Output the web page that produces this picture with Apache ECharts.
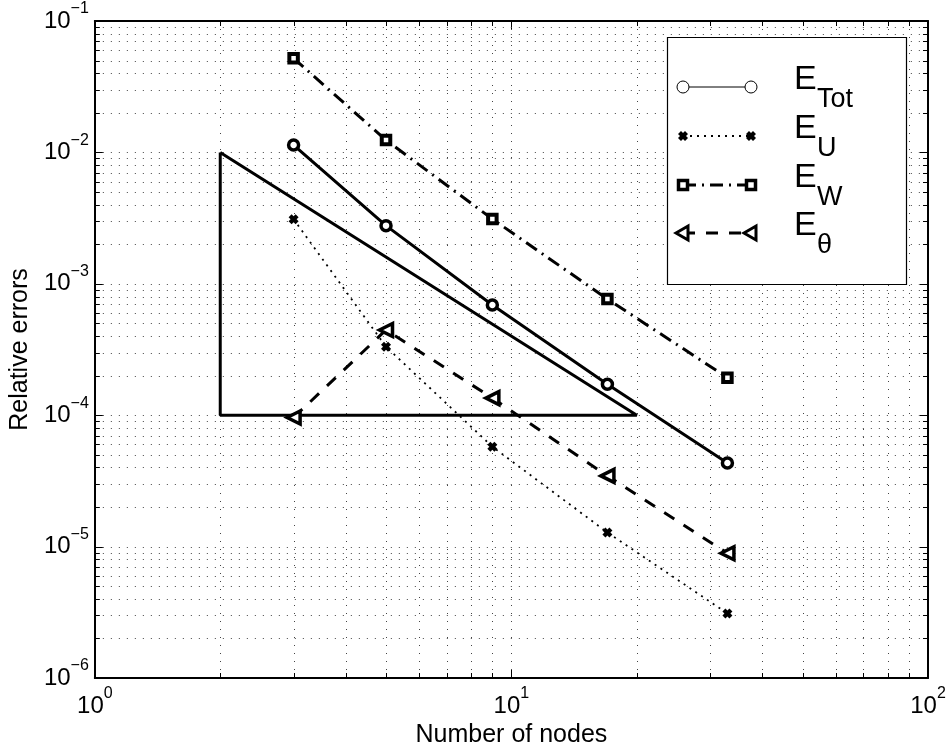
<!DOCTYPE html>
<html>
<head>
<meta charset="utf-8">
<script src="https://cdn.jsdelivr.net/npm/echarts@6/dist/echarts.min.js"></script>
<style>
  html, body { margin: 0; padding: 0; background: #fff; }
  #chart { width: 949px; height: 753px; }
</style>
</head>
<body>
<div id="chart"></div>
<script>
// values
const nodes = [3, 5, 9, 17, 33]
const eTot = [0.01138, 0.00277, 6.9e-4, 1.72e-4, 4.33e-5]
const eU = [3.1e-3, 3.32e-4, 5.76e-5, 1.28e-5, 3.1e-6]
const eW = [0.052, 0.0124, 3.11e-3, 7.66e-4, 1.93e-4]
const eTheta = [9.6e-5, 4.45e-4, 1.35e-4, 3.45e-5, 8.9e-6]
// slope reference triangle
const triX = [2, 2, 20, 2]
const triY = [1e-2, 1e-4, 1e-4, 1e-2]
// axis decades (tick labels) and the minor steps inside a decade
const xDecades = [1, 10, 100]
const yDecades = [1e-6, 1e-5, 1e-4, 1e-3, 1e-2, 1e-1]
const minorSteps = [2, 3, 4, 5, 6, 7, 8, 9]

const FONT = "'Liberation Sans', Arial, Helvetica, sans-serif"
const xMin = xDecades[0], xMax = xDecades[xDecades.length - 1]
const yMin = yDecades[0], yMax = yDecades[yDecades.length - 1]

const zip = (xs, ys) => xs.map((x, i) => [x, ys[i]])

// grid lines: [x, y, orientation (0 vertical / 1 horizontal), major]
const gridLines = []
xDecades.forEach((d, i) => {
  gridLines.push([d, yMin, 0, 1])
  if (i < xDecades.length - 1) minorSteps.forEach(m => gridLines.push([d * m, yMin, 0, 0]))
})
yDecades.forEach((d, i) => {
  gridLines.push([xMin, d, 1, 1])
  if (i < yDecades.length - 1) minorSteps.forEach(m => gridLines.push([xMin, d * m, 1, 0]))
})

const near = (a, b) => Math.abs(Math.log10(a) - Math.log10(b)) < 1e-6
const px = v => Math.round(v) + 0.5

function renderGrid(params, api) {
  const vertical = api.value(2) === 0
  const len = api.value(3) === 1 ? 8 : 5
  const dot = { stroke: '#444', lineWidth: 1, lineDash: [1, 7] }
  const tick = { stroke: '#000', lineWidth: 1 }
  const children = []
  if (vertical) {
    const v = api.value(0)
    const a = api.coord([v, yMin]), b = api.coord([v, yMax])
    const x = px(a[0])
    if (!near(v, xMin) && !near(v, xMax)) {
      children.push({ type: 'line', shape: { x1: x, y1: a[1], x2: x, y2: b[1] }, style: dot })
    }
    children.push({ type: 'line', shape: { x1: x, y1: a[1], x2: x, y2: a[1] - len }, style: tick })
    children.push({ type: 'line', shape: { x1: x, y1: b[1], x2: x, y2: b[1] + len }, style: tick })
  } else {
    const v = api.value(1)
    const a = api.coord([xMin, v]), b = api.coord([xMax, v])
    const y = px(a[1])
    if (!near(v, yMin) && !near(v, yMax)) {
      children.push({ type: 'line', shape: { x1: a[0], y1: y, x2: b[0], y2: y }, style: dot })
    }
    children.push({ type: 'line', shape: { x1: a[0], y1: y, x2: a[0] + len, y2: y }, style: tick })
    children.push({ type: 'line', shape: { x1: b[0], y1: y, x2: b[0] - len, y2: y }, style: tick })
  }
  return { type: 'group', children }
}

const powLabel = v => {
  const e = Math.round(Math.log10(v))
  return '{b|10}{s|' + (e < 0 ? '\u2212' + (-e) : e) + '}'
}
const powRich = {
  b: { fontSize: 24, lineHeight: 40, fontFamily: FONT, color: '#000' },
  s: { fontSize: 16, lineHeight: 16, verticalAlign: 'top', fontFamily: FONT, color: '#000' },
}

// bold "x" marker
const X_PATH = 'path://M0,3L3,0L5,2L7,0L10,3L8,5L10,7L7,10L5,8L3,10L0,7L2,5Z'

// legend drawn by hand so each entry gets a marker at both ends like the original
const legendLeft = 683, legendRight = 751, legendText = 794
const legendRows = [
  { sub: 'Tot', y: 87 },
  { sub: 'U', y: 136 },
  { sub: 'W', y: 185 },
  { sub: '\u03b8', y: 233 },
]
const legendMarks = [
  { dash: null, width: 1, mark: (cx, cy) => ({ type: 'circle', shape: { cx, cy, r: 6 }, style: { fill: '#fff', stroke: '#000', lineWidth: 1 } }) },
  { dash: [2, 5], width: 1.8, mark: (cx, cy) => ({ type: 'polygon', shape: { points: [[-5, -2], [-2, -5], [0, -3], [2, -5], [5, -2], [3, 0], [5, 2], [2, 5], [0, 3], [-2, 5], [-5, 2], [-3, 0]].map(p => [cx + p[0], cy + p[1]]) }, style: { fill: '#000' } }) },
  { dash: [13, 6, 2, 6], width: 3, mark: (cx, cy) => ({ type: 'rect', shape: { x: cx - 4.5, y: cy - 4.5, width: 9, height: 9 }, style: { fill: '#fff', stroke: '#000', lineWidth: 3.5 } }) },
  { dash: [12, 11], width: 3, mark: (cx, cy) => ({ type: 'polygon', shape: { points: [[cx - 7, cy], [cx + 5, cy - 7], [cx + 5, cy + 7]] }, style: { fill: '#fff', stroke: '#000', lineWidth: 3 } }) },
]
const legendGraphic = [
  { type: 'rect', shape: { x: 667.5, y: 37.5, width: 239, height: 247 }, style: { fill: '#fff', stroke: '#000', lineWidth: 1.2 }, z: 10 },
]
legendRows.forEach((row, i) => {
  const m = legendMarks[i]
  legendGraphic.push({
    type: 'line', z: 11,
    shape: { x1: legendLeft, y1: row.y, x2: legendRight, y2: row.y },
    style: { stroke: '#000', lineWidth: m.width, lineDash: m.dash },
  })
  legendGraphic.push(Object.assign(m.mark(legendLeft, row.y), { z: 12 }))
  legendGraphic.push(Object.assign(m.mark(legendRight, row.y), { z: 12 }))
  legendGraphic.push({
    type: 'text', z: 12, x: legendText, y: row.y - 7,
    style: { text: 'E', font: '34px ' + FONT, fill: '#000', verticalAlign: 'middle', align: 'left' },
  })
  legendGraphic.push({
    type: 'text', z: 12, x: legendText + 23, y: row.y + 13,
    style: { text: row.sub, font: '27px ' + FONT, fill: '#000', verticalAlign: 'middle', align: 'left' },
  })
})

const boxAxis = {
  axisLine: { show: true, lineStyle: { color: '#000', width: 2 } },
  axisTick: { show: false },
  splitLine: { show: false },
}

const chart = echarts.init(document.getElementById('chart'))
const option = {
  animation: false,
  backgroundColor: '#fff',
  grid: { left: 94, top: 21, right: 21, bottom: 75 },
  xAxis: [
    Object.assign({
      type: 'log', logBase: 10, min: xMin, max: xMax, position: 'bottom',
      axisLabel: { formatter: powLabel, rich: powRich, margin: 8 },
      name: 'Number of nodes', nameLocation: 'middle', nameGap: 41,
      nameTextStyle: { fontSize: 25, fontFamily: FONT, color: '#000' },
    }, boxAxis),
    Object.assign({ type: 'log', logBase: 10, min: xMin, max: xMax, position: 'top', axisLabel: { show: false } }, boxAxis),
  ],
  yAxis: [
    Object.assign({
      type: 'log', logBase: 10, min: yMin, max: yMax, position: 'left',
      axisLabel: { formatter: powLabel, rich: powRich, margin: 6 },
      name: 'Relative errors', nameLocation: 'middle', nameGap: 55,
      nameTextStyle: { fontSize: 25, fontFamily: FONT, color: '#000' },
    }, boxAxis),
    Object.assign({ type: 'log', logBase: 10, min: yMin, max: yMax, position: 'right', axisLabel: { show: false } }, boxAxis),
  ],
  graphic: legendGraphic,
  series: [
    {
      type: 'custom', silent: true, z: 1, clip: false,
      renderItem: renderGrid, data: gridLines,
    },
    {
      name: 'slope', type: 'line', data: zip(triX, triY), symbol: 'none', z: 3,
      lineStyle: { color: '#000', width: 3 },
    },
    {
      name: 'E_Tot', type: 'line', data: zip(nodes, eTot), z: 4,
      lineStyle: { color: '#000', width: 3 },
      symbol: 'circle', symbolSize: 10,
      itemStyle: { color: '#fff', borderColor: '#000', borderWidth: 3.5 },
    },
    {
      name: 'E_U', type: 'line', data: zip(nodes, eU), z: 4,
      lineStyle: { color: '#000', width: 1.8, type: [2, 5] },
      symbol: X_PATH, symbolSize: 10,
      itemStyle: { color: '#000' },
    },
    {
      name: 'E_W', type: 'line', data: zip(nodes, eW), z: 4,
      lineStyle: { color: '#000', width: 3, type: [13, 6, 2, 6] },
      symbol: 'rect', symbolSize: 8.5,
      itemStyle: { color: '#fff', borderColor: '#000', borderWidth: 4 },
    },
    {
      name: 'E_theta', type: 'line', data: zip(nodes, eTheta), z: 4,
      lineStyle: { color: '#000', width: 3, type: [12, 11] },
      symbol: 'triangle', symbolSize: 13, symbolRotate: 90,
      itemStyle: { color: '#fff', borderColor: '#000', borderWidth: 3.5 },
    },
  ],
}
chart.setOption(option)
</script>
</body>
</html>
